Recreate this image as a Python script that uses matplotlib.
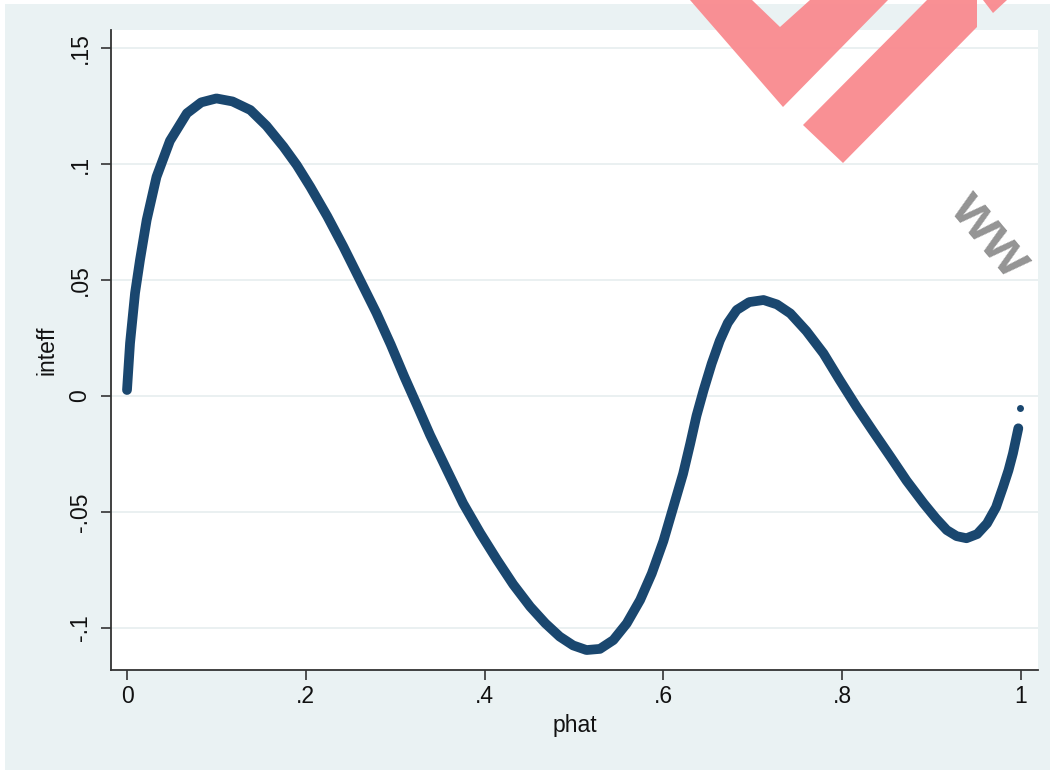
import matplotlib.pyplot as plt
from matplotlib.patches import Rectangle, Polygon

# predicted probability vs. interaction effect
phat = [0.000, 0.0034, 0.009, 0.0145, 0.022, 0.033, 0.048, 0.067, 0.083,
        0.100, 0.118, 0.138, 0.156, 0.175, 0.190, 0.205, 0.224, 0.242,
        0.260, 0.279, 0.295, 0.310, 0.325, 0.339, 0.358, 0.376, 0.395,
        0.414, 0.432, 0.451, 0.468, 0.484, 0.499, 0.514, 0.529, 0.544,
        0.559, 0.574, 0.587, 0.600, 0.611, 0.622, 0.630, 0.637, 0.645,
        0.654, 0.663, 0.672, 0.682, 0.696, 0.712, 0.727, 0.742, 0.760,
        0.779, 0.797, 0.816, 0.835, 0.854, 0.872, 0.891, 0.905, 0.917,
        0.928, 0.939, 0.951, 0.962, 0.972, 0.980, 0.986, 0.991, 0.997]
inteff = [0.0026, 0.0228, 0.0444, 0.0586, 0.0759, 0.0945, 0.1100, 0.1219,
          0.1266, 0.1283, 0.1270, 0.1233, 0.1165, 0.1075, 0.0995, 0.0902,
          0.0775, 0.0644, 0.0505, 0.0358, 0.0222, 0.0085, -0.0045, -0.0168,
          -0.0320, -0.0463, -0.0590, -0.0707, -0.0812, -0.0908, -0.0980,
          -0.1037, -0.1075, -0.1095, -0.1090, -0.1052, -0.0980, -0.0879,
          -0.0765, -0.0625, -0.0480, -0.0335, -0.0205, -0.0085, 0.0026,
          0.0140, 0.0238, 0.0315, 0.0371, 0.0405, 0.0414, 0.0395, 0.0356,
          0.0280, 0.0184, 0.0070, -0.0046, -0.0155, -0.0262, -0.0365,
          -0.0462, -0.0528, -0.0578, -0.0604, -0.0613, -0.0595, -0.0549,
          -0.0480, -0.0391, -0.0320, -0.0247, -0.0139]
# last observation sits apart from the rest
phat_end = [0.999]
inteff_end = [-0.005]

xticks = [0, 0.2, 0.4, 0.6, 0.8, 1]
xticklabels = ['0', '.2', '.4', '.6', '.8', '1']
yticks = [-0.1, -0.05, 0, 0.05, 0.1, 0.15]
yticklabels = ['-.1', '-.05', '0', '.05', '.1', '.15']

navy = '#1A476F'
bg = '#EAF2F3'

plt.rcParams['font.family'] = ['Liberation Sans', 'DejaVu Sans']

W, H = 1050, 772
fig = plt.figure(figsize=(W / 100, H / 100), dpi=100)
fig.patch.set_facecolor('white')
fig.add_artist(Rectangle((5 / W, 2 / H), (W - 5) / W, (H - 6) / H,
                         transform=fig.transFigure, facecolor=bg,
                         edgecolor='none', zorder=-1))

ax = fig.add_axes([111 / W, 1 - 670 / H, (1038 - 111) / W, (670 - 30) / H])
ax.set_facecolor('white')

ax.plot(phat, inteff, color=navy, lw=7, solid_capstyle='round',
        solid_joinstyle='round', zorder=3)
ax.plot(phat_end, inteff_end, 'o', color=navy, ms=5, mec='none', zorder=3)

ax.set_xlim(-0.0179, 1.019)
ax.set_ylim(-0.1181, 0.1578)
ax.set_xticks(xticks)
ax.set_xticklabels(xticklabels)
ax.set_yticks(yticks)
ax.set_yticklabels(yticklabels, rotation=90, va='center')

ax.grid(axis='y', color='#E6EEEF', lw=1.2, zorder=0)
ax.set_axisbelow(True)

for side in ['top', 'right']:
    ax.spines[side].set_visible(False)
for side in ['left', 'bottom']:
    ax.spines[side].set_color('#333333')
    ax.spines[side].set_linewidth(1.3)

ax.tick_params(length=7, width=1.2, color='#333333', labelsize=16.5,
               labelcolor='#111111')
ax.tick_params(axis='x', pad=4)
ax.tick_params(axis='y', pad=7)

ax.set_xlabel('phat', fontsize=16.5, color='#111111')
ax.set_ylabel('inteff', fontsize=16.5, color='#111111')
ax.xaxis.set_label_coords(0.5, -0.068)
ax.yaxis.set_label_coords(-0.057, 0.5)

# site watermark drawn over everything, in pixel space
wm = fig.add_axes([0, 0, 1, 1], zorder=10)
wm.set_xlim(0, W)
wm.set_ylim(H, 0)
wm.axis('off')
red = '#F98C91'
wm.add_patch(Polygon([(690, 0), (752, 0), (780, 27), (810, 0), (888, 0),
                      (783, 107)], closed=True, facecolor=red,
                     edgecolor='none', alpha=0.97))
wm.add_patch(Polygon([(927, 0), (977, 0), (977, 27), (843, 163),
                      (803, 125)], closed=True, facecolor=red,
                     edgecolor='none', alpha=0.97))
wm.add_patch(Polygon([(983, 0), (1007, 0), (993, 13)], closed=True,
                     facecolor=red, edgecolor='none', alpha=0.97))
wm.text(990, 235, 'ww', rotation=-50, rotation_mode='anchor',
        ha='center', va='center', fontsize=43, fontweight='bold',
        color='#8E8E8E', alpha=0.95)

fig.savefig('out.png', dpi=100)
